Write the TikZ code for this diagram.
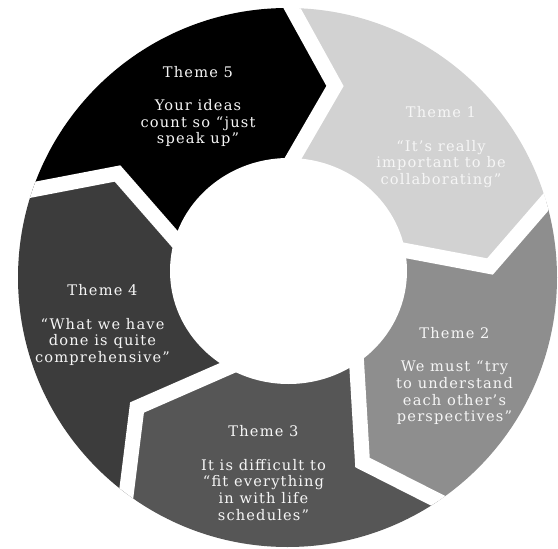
\documentclass[tikz,border=0pt]{standalone}
\usepackage{fontspec}
\setmainfont{DejaVu Serif}
\newfontfamily\labelfont[LetterSpace=8]{DejaVu Serif}
\usetikzlibrary{calc}

\definecolor{segA}{HTML}{D2D2D2}
\definecolor{segB}{HTML}{8E8E8E}
\definecolor{segC}{HTML}{565656}
\definecolor{segD}{HTML}{3C3C3C}
\definecolor{segE}{HTML}{000000}
\definecolor{labelwhite}{HTML}{F6F6F6}

\tikzset{
  segfill/.style={fill=#1, draw=none},
  separator/.style={draw=white, line width=15pt, line join=miter, miter limit=20},
  themetext/.style={text=labelwhite, align=center, inner sep=0pt,
    font=\labelfont\fontsize{14.6pt}{16.6pt}\selectfont},
}

\begin{document}
\begin{tikzpicture}[x=1pt,y=-1pt]
  \useasboundingbox (0,0) rectangle (558,549);
  \fill[white] (0,0) rectangle (558,549);

  % ring centre, hub centre
  \coordinate (ctr) at (287.5,277.5);
  \coordinate (hub) at (288.5,271);

  % chevron boundaries: inner point, tip, outer point
  \coordinate (i1) at (293,158.5);   \coordinate (t1) at (335,86);     \coordinate (o1) at (292.5,9);
  \coordinate (i2) at (400,249.5);   \coordinate (t2) at (490,266.5);  \coordinate (o2) at (549,198.5);
  \coordinate (i3) at (357.5,378);   \coordinate (t3) at (362.5,462.5);\coordinate (o3) at (440.5,502);
  \coordinate (i4) at (213.5,374);   \coordinate (t4) at (137,407.5);  \coordinate (o4) at (125.5,500);
  \coordinate (i5) at (173.5,237.5); \coordinate (t5) at (117.5,173.5);\coordinate (o5) at (31.5,190);

  % extended ends, beyond the ring on both sides
  \foreach \k in {1,...,5}{
    \coordinate (x\k) at ($(t\k)!2!(o\k)$);
    \coordinate (n\k) at ($(t\k)!1.6!(i\k)$);
  }

  % far points midway between boundaries
  \coordinate (f1) at (530.5,-40.3);
  \coordinate (f2) at (664,412);
  \coordinate (f3) at (282,677.5);
  \coordinate (f4) at (-93.3,399.8);
  \coordinate (f5) at (57.5,-49.8);

  \begin{scope}
    \clip (ctr) circle (269.5pt);
    \path[segfill=segA] (hub) -- (n1) -- (t1) -- (x1) -- (f1) -- (x2) -- (t2) -- (n2) -- cycle;
    \path[segfill=segB] (hub) -- (n2) -- (t2) -- (x2) -- (f2) -- (x3) -- (t3) -- (n3) -- cycle;
    \path[segfill=segC] (hub) -- (n3) -- (t3) -- (x3) -- (f3) -- (x4) -- (t4) -- (n4) -- cycle;
    \path[segfill=segD] (hub) -- (n4) -- (t4) -- (x4) -- (f4) -- (x5) -- (t5) -- (n5) -- cycle;
    \path[segfill=segE] (hub) -- (n5) -- (t5) -- (x5) -- (f5) -- (x1) -- (t1) -- (n1) -- cycle;
    \foreach \k in {1,...,5}{
      \draw[separator] (n\k) -- (t\k) -- (x\k);
    }
  \end{scope}

  % white hub
  \fill[white] (hub) ellipse [x radius=118.5pt, y radius=113pt];

  % labels
  \node[themetext] (th1) at (441,147) {Theme 1\\[17pt]“It’s really\\important to be\\collaborating”};
  \node[themetext] (th2) at (454.5,376) {Theme 2\\[17pt]We must “try\\to understand\\each other’s\\perspectives”};
  \node[themetext] (th3) at (263.5,473) {Theme 3\\[17pt]It is difficult to\\“fit everything\\in with life\\schedules”};
  \node[themetext] (th4) at (102.5,325) {Theme 4\\[17pt]“What we have\\done is quite\\comprehensive”};
  \node[themetext] (th5) at (198,106.5) {Theme 5\\[17pt]Your ideas\\count so “just\\speak up”};
\end{tikzpicture}
\end{document}
